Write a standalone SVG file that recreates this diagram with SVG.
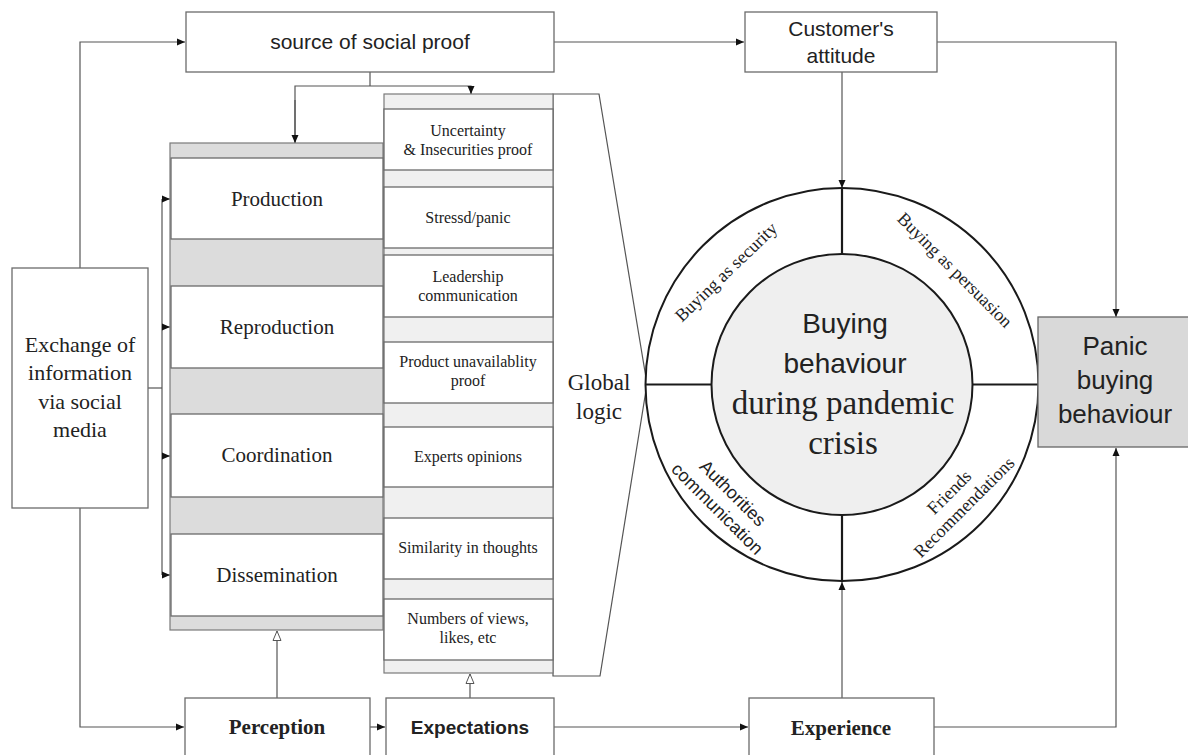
<svg xmlns="http://www.w3.org/2000/svg" width="1188" height="755" viewBox="0 0 1188 755">
<style>
.box{fill:#fff;stroke:#6b6b6b;stroke-width:1.3}
.band1{fill:#dcdcdc;stroke:#7a7a7a;stroke-width:1.2}
.band2{fill:#f0f0f0;stroke:#7a7a7a;stroke-width:1.2}
.conn{fill:none;stroke:#555;stroke-width:1.2}
.div{fill:none;stroke:#1a1a1a;stroke-width:2.2}
.serif{font-family:"Liberation Serif","Times New Roman",serif;fill:#222}
.sans{font-family:"Liberation Sans",Arial,sans-serif;fill:#222}
</style>
<defs>
<marker id="arr" viewBox="0 0 8 8" refX="8" refY="4" markerWidth="8" markerHeight="8" markerUnits="userSpaceOnUse" orient="auto">
<path d="M0,0.5 L8,4 L0,7.5 z" fill="#111"/>
</marker>
<marker id="hollow" viewBox="0 0 10 10" refX="10" refY="5" markerWidth="10" markerHeight="10" markerUnits="userSpaceOnUse" orient="auto">
<path d="M0.5,1 L10,5 L0.5,9 z" fill="#fff" stroke="#555" stroke-width="1"/>
</marker>
</defs>

<g id="connectors">
<polyline class="conn" points="80,268 80,42 185,42" marker-end="url(#arr)"/>
<polyline class="conn" points="80,508 80,727 184,727" marker-end="url(#arr)"/>
<line class="conn" x1="148" y1="388" x2="162" y2="388"/>
<line class="conn" x1="162" y1="199" x2="162" y2="575"/>
<line class="conn" x1="162" y1="199" x2="170" y2="199" marker-end="url(#arr)"/>
<line class="conn" x1="162" y1="327" x2="170" y2="327" marker-end="url(#arr)"/>
<line class="conn" x1="162" y1="456" x2="170" y2="456" marker-end="url(#arr)"/>
<line class="conn" x1="162" y1="575" x2="170" y2="575" marker-end="url(#arr)"/>
<line class="conn" x1="370" y1="72" x2="370" y2="86"/>
<polyline class="conn" points="295,143 295,86 471,86 471,94"/>
<line class="conn" x1="295" y1="100" x2="295" y2="143" marker-end="url(#arr)"/>
<line class="conn" x1="471" y1="86" x2="471" y2="94" marker-end="url(#arr)"/>
<line class="conn" x1="554" y1="42" x2="744" y2="42" marker-end="url(#arr)"/>
<polyline class="conn" points="937,42 1116,42 1116,317" marker-end="url(#arr)"/>
<line class="conn" x1="842" y1="72" x2="842" y2="188" marker-end="url(#arr)"/>
<line class="conn" x1="842" y1="698" x2="842" y2="582" marker-end="url(#arr)"/>
<polyline class="conn" points="934,727 1116,727 1116,448" marker-end="url(#arr)"/>
<line class="conn" x1="370" y1="727" x2="385" y2="727" marker-end="url(#arr)"/>
<line class="conn" x1="554" y1="727" x2="748" y2="727" marker-end="url(#arr)"/>
<line class="conn" x1="277" y1="698" x2="277" y2="631" marker-end="url(#hollow)"/>
<line class="conn" x1="470" y1="698" x2="470" y2="674" marker-end="url(#hollow)"/>
</g>

<g id="source">
<rect class="box" x="186" y="12" width="368" height="60"/>
<text class="sans" x="370" y="49" font-size="21" text-anchor="middle">source of social proof</text>
</g>

<g id="customer">
<rect class="box" x="745" y="12" width="192" height="60"/>
<text class="sans" x="841" y="36" font-size="21" text-anchor="middle">Customer's</text>
<text class="sans" x="841" y="63" font-size="21" text-anchor="middle">attitude</text>
</g>

<g id="exchange">
<rect class="box" x="12" y="268" width="136" height="240"/>
<g class="serif" font-size="22" text-anchor="middle">
<text x="80" y="352">Exchange of</text>
<text x="80" y="380">information</text>
<text x="80" y="409">via social</text>
<text x="80" y="437">media</text>
</g>
</g>

<g id="activities">
<rect class="band1" x="170" y="143" width="213" height="487"/>
<rect class="box" x="171" y="158" width="212" height="81"/>
<rect class="box" x="171" y="286" width="212" height="82"/>
<rect class="box" x="171" y="414" width="212" height="83"/>
<rect class="box" x="171" y="534" width="212" height="82"/>
<g class="serif" font-size="21" text-anchor="middle">
<text x="277" y="206">Production</text>
<text x="277" y="334">Reproduction</text>
<text x="277" y="462">Coordination</text>
<text x="277" y="582">Dissemination</text>
</g>
</g>

<g id="global-logic">
<polygon points="553,94 599,94 647,384 600,676 553,676" fill="#fff" stroke="#555" stroke-width="1.2"/>
<text class="serif" x="599" y="390" font-size="23" text-anchor="middle">Global</text>
<text class="serif" x="599" y="419" font-size="23" text-anchor="middle">logic</text>
</g>

<g id="proofs">
<rect class="band2" x="384" y="94" width="169" height="579"/>
<rect class="box" x="384" y="109" width="169" height="61"/>
<rect class="box" x="384" y="187" width="169" height="61"/>
<rect class="box" x="384" y="255" width="169" height="62"/>
<rect class="box" x="384" y="342" width="169" height="61"/>
<rect class="box" x="384" y="427" width="169" height="60"/>
<rect class="box" x="384" y="518" width="169" height="61"/>
<rect class="box" x="384" y="599" width="169" height="61"/>
<g class="serif" font-size="16" text-anchor="middle">
<text x="468" y="136">Uncertainty</text>
<text x="468" y="155">&amp; Insecurities proof</text>
<text x="468" y="223">Stressd/panic</text>
<text x="468" y="282">Leadership</text>
<text x="468" y="301">communication</text>
<text x="468" y="367">Product unavailablity</text>
<text x="468" y="386">proof</text>
<text x="468" y="462">Experts opinions</text>
<text x="468" y="553">Similarity in thoughts</text>
<text x="468" y="624">Numbers of views,</text>
<text x="468" y="643">likes, etc</text>
</g>
</g>

<g id="buying-circle">
<circle cx="842" cy="384.5" r="196.5" fill="#fff" stroke="#1a1a1a" stroke-width="2"/>
<circle cx="842" cy="384.5" r="130.5" fill="#efefef" stroke="#1a1a1a" stroke-width="2"/>
<line class="div" x1="842" y1="188" x2="842" y2="254"/>
<line class="div" x1="842" y1="515" x2="842" y2="581"/>
<line class="div" x1="645.5" y1="384.5" x2="711.5" y2="384.5"/>
<line class="div" x1="972.5" y1="384.5" x2="1038.5" y2="384.5"/>
<text class="sans" x="845" y="333" font-size="28" text-anchor="middle">Buying</text>
<text class="sans" x="845" y="373" font-size="28" text-anchor="middle">behaviour</text>
<text class="serif" x="843" y="414" font-size="33" text-anchor="middle">during pandemic</text>
<text class="serif" x="843" y="454" font-size="33" text-anchor="middle">crisis</text>
<text class="serif" transform="translate(726,272) rotate(-44)" y="6" font-size="18" text-anchor="middle" fill="#444">Buying as security</text>
<text class="serif" transform="translate(955,270) rotate(45)" y="6" font-size="18" text-anchor="middle" fill="#444">Buying as persuasion</text>
<g transform="translate(725,501) rotate(45)" class="sans" font-size="18" text-anchor="middle" fill="#444">
<text y="-5">Authorities</text>
<text y="17">communication</text>
</g>
<g transform="translate(957,500) rotate(-45)" class="serif" font-size="18" text-anchor="middle" fill="#444">
<text y="-5">Friends</text>
<text y="16">Recommendations</text>
</g>
</g>

<g id="panic">
<rect x="1038" y="317" width="155" height="130" fill="#d9d9d9" stroke="#666" stroke-width="1.3"/>
<g class="sans" font-size="26" text-anchor="middle">
<text x="1115" y="355">Panic</text>
<text x="1115" y="389">buying</text>
<text x="1115" y="423">behaviour</text>
</g>
</g>

<g id="perception">
<rect class="box" x="185" y="698" width="185" height="62"/>
<text class="serif" x="277" y="734" font-size="21" font-weight="bold" text-anchor="middle">Perception</text>
</g>
<g id="expectations">
<rect class="box" x="386" y="698" width="168" height="62"/>
<text class="sans" x="470" y="734" font-size="19" font-weight="bold" text-anchor="middle">Expectations</text>
</g>
<g id="experience">
<rect class="box" x="749" y="698" width="185" height="62"/>
<text class="serif" x="841" y="735" font-size="21" font-weight="bold" text-anchor="middle">Experience</text>
</g>
</svg>
